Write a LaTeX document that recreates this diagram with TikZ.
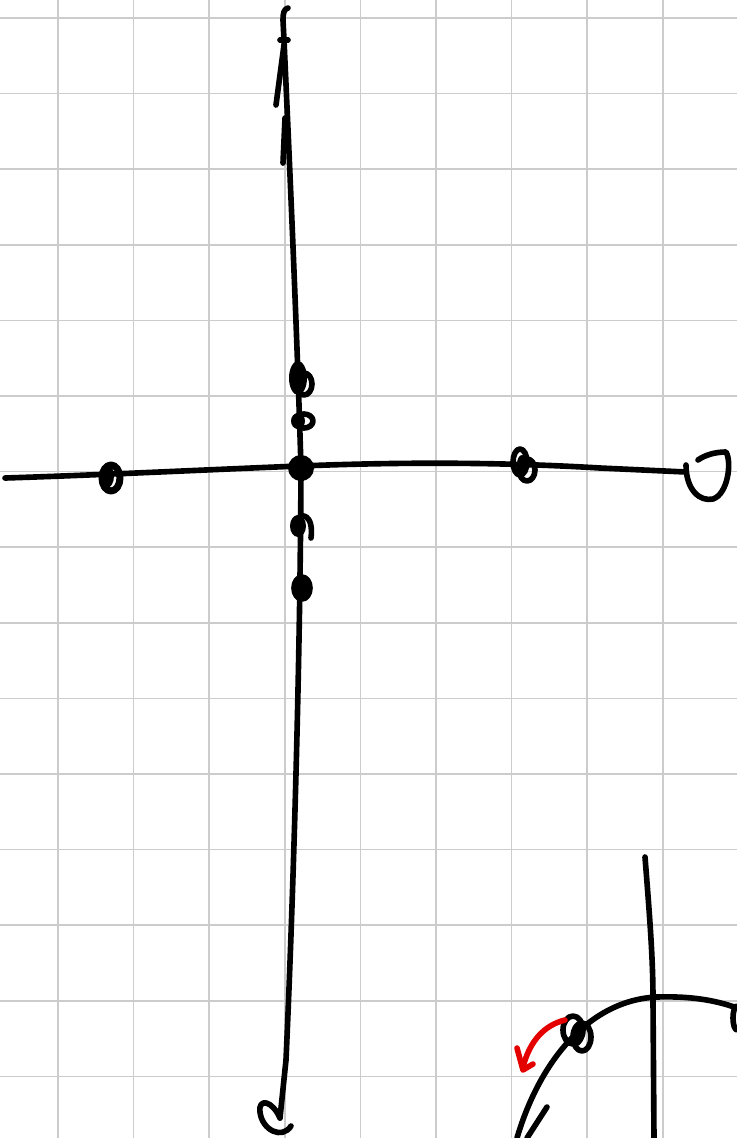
\documentclass[tikz,border=0pt]{standalone}
\usetikzlibrary{arrows.meta}
\begin{document}
\begin{tikzpicture}[x=0.2mm,y=-0.2mm,
  gridline/.style={draw=black!20,line width=1pt},
  ink/.style={draw=black,line width=3.2pt,line cap=round,line join=round},
  redink/.style={draw=red!90!black,line width=3.2pt,line cap=round,line join=round}]
\useasboundingbox[fill=white] (0,0) rectangle (737,1138);
% paper grid
\foreach \k in {0,...,8} \draw[gridline] ({58+75.6*\k},0) -- ({58+75.6*\k},1138);
\foreach \k in {0,...,14} \draw[gridline] (0,{18+75.6*\k}) -- (737,{18+75.6*\k});
% vertical axis
\draw[ink] (288,8) .. controls (284,9) and (283,13) .. (283,20) -- (284,40)
  .. controls (289,150) and (297,330) .. (301,468)
  .. controls (300,700) and (291,950) .. (286,1060) -- (280,1118);
\draw[ink] (284,45) -- (276,105);
\draw[ink] (280,40) -- (288,40);
\draw[ink] (285,118) -- (283,163);
\draw[ink] (280,1118) .. controls (272,1100) and (258,1098) .. (260,1112)
  .. controls (262,1130) and (282,1140) .. (291,1126);
% horizontal axis
\draw[ink] (5,478) .. controls (100,475) and (200,470) .. (300,466)
  .. controls (400,462) and (500,462) .. (600,468) -- (686,472);
\draw[ink] (686,465) .. controls (686,490) and (700,502) .. (713,499)
  .. controls (728,494) and (732,462) .. (726,452)
  .. controls (715,452) and (705,455) .. (698,460);
% dots on the axes
\fill (301,468) circle[radius=13];
\draw[ink,fill] (302,588) ellipse[x radius=8,y radius=11];
\fill (298,378) ellipse[x radius=9,y radius=17];
\draw[ink] (304,384) ellipse[x radius=8,y radius=11];
\fill (298,421) ellipse[x radius=7,y radius=8];
\draw[ink] (304,421) ellipse[x radius=9,y radius=7];
\fill (298,526) ellipse[x radius=8,y radius=11];
\draw[ink] (296,521) .. controls (301,511) and (314,515) .. (311,538);
\fill (107,476) ellipse[x radius=7,y radius=12];
\draw[ink,line width=4pt] (111,478) ellipse[x radius=9,y radius=13];
\draw[ink] (520,462) ellipse[x radius=7,y radius=13];
\draw[ink] (527,470) ellipse[x radius=8,y radius=11];
\fill (522,464) ellipse[x radius=5,y radius=9];
% lower right sketch
\draw[ink] (645,857) .. controls (650,920) and (653,960) .. (653,1000) -- (654,1138);
\draw[ink] (517,1138) .. controls (540,1060) and (590,1000) .. (657,997)
  .. controls (690,996) and (715,1000) .. (737,1008);
\draw[ink] (547,1107) -- (527,1138);
\draw[ink] (573,1030) ellipse[x radius=10,y radius=14];
\draw[ink] (582,1037) ellipse[x radius=9,y radius=14];
\fill (577,1035) ellipse[x radius=6,y radius=11];
\draw[ink] (737,1018) ellipse[x radius=4,y radius=12];
\draw[redink] (565,1020) .. controls (545,1025) and (530,1040) .. (523,1067);
\draw[redink] (517,1048) -- (523,1070) -- (533,1064);
\end{tikzpicture}
\end{document}
